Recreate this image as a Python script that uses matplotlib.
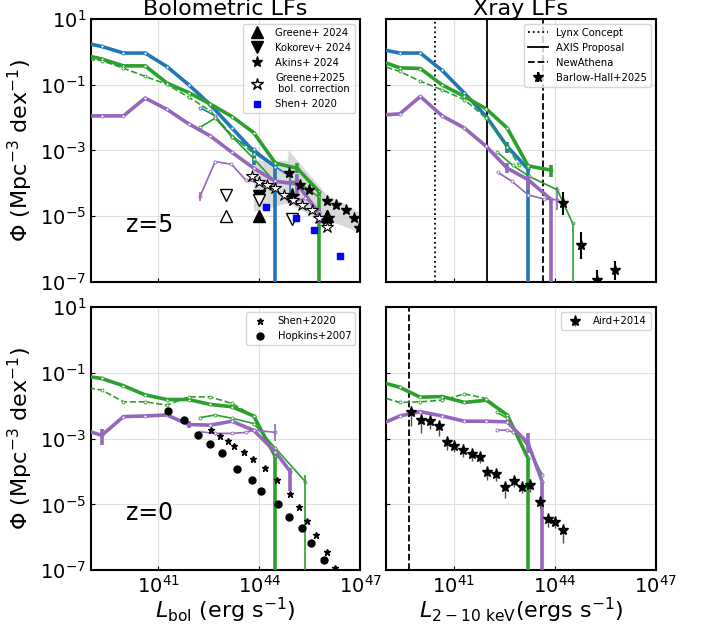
import numpy as np
import matplotlib.pyplot as plt

# ---- luminosity bins (log10 L) ----
bins_bol = [38.675, 39.32, 39.965, 40.61, 41.255, 41.9, 42.545, 43.19, 43.835, 44.48, 45.125, 45.77]
bins_x = [38.75, 39.4, 40.01, 40.66, 41.32, 41.97, 42.59, 43.21, 43.88]

# ---- z=5 bolometric LFs (log10 phi) ----
blue_bol_z5 = [0.3, 0.16, -0.04, -0.04, -0.45, -1.0, -1.61, -2.32, -3.03, -3.49]
green_bol_z5 = [-0.07, -0.22, -0.43, -0.43, -0.95, -1.24, -1.59, -1.97, -2.46, -3.39, -3.54, -4.25]
green_dash_bol_z5 = [-0.22, -0.27, -0.5, -0.75, -0.99, -1.38, -1.8, -2.55, -3.1]
purple_bol_z5 = [-1.95, -1.95, -1.95, -1.41, -1.75, -2.19, -2.56, -3.06, -3.54, -3.94, -4.02, -4.9]
thin_x_bol_z5 = [42.24, 42.69, 43.19, 43.835, 44.48, 44.92]
blue_thin_bol_z5 = [-1.7, -1.95, -2.6, -2.95, -3.5, -3.79]
green_thin_x_bol_z5 = [42.24, 42.69, 43.19, 43.835, 44.48, 45.125, 45.77]
green_thin_bol_z5 = [-2.3, -2.02, -2.58, -3.25, -3.97, -3.94, -4.42]
purple_thin_x_bol_z5 = [42.24, 42.69, 43.17, 43.6, 44.05, 44.5, 44.92, 45.37, 45.77]
purple_thin_bol_z5 = [-4.4, -3.34, -3.42, -3.9, -4.0, -4.2, -4.6, -4.45, -4.86]

# observational points at z=5
greene24_x, greene24_y = [44.0, 46.0], [-5.0, -5.0]
greene24_lim_x, greene24_lim_y = [43.0], [-5.0]
kokorev_x, kokorev_y = [44.0], [-4.4]
kokorev_lim_x, kokorev_lim_y = [43.0, 44.0, 44.97], [-4.35, -4.5, -5.1]
akins_x = [44.87, 45.22, 45.47, 46.01, 46.29, 46.59, 46.8, 46.96]
akins_y = [-3.69, -4.05, -4.2, -4.53, -4.65, -4.8, -5.06, -5.36]
akins_big_x, akins_big_y = [44.97, 46.01], [-4.38, -5.06]
akins_band_x = [43.83, 44.84, 44.86, 45.5, 46.0, 46.5, 47.0]
akins_band_lo = [-4.85, -4.6, -4.6, -4.95, -5.1, -5.3, -5.5]
akins_band_hi = [-3.3, -3.3, -2.98, -3.75, -4.35, -4.6, -4.9]
greene25_x = [43.78, 43.98, 44.23, 44.48, 44.73, 45.0, 45.27, 45.57, 45.77, 46.01]
greene25_y = [-3.79, -3.95, -4.05, -4.15, -4.35, -4.5, -4.65, -4.8, -5.06, -5.33]
shen_z5_x = [44.2, 45.09, 45.62, 46.41]
shen_z5_y = [-4.72, -5.06, -5.41, -6.2]

# ---- z=5 X-ray LFs ----
blue_x_z5 = [0.09, -0.04, -0.04, -0.57, -1.26, -1.97, -2.88, -3.57]
green_x_z5 = [-0.25, -0.49, -0.51, -1.01, -1.36, -1.74, -2.32, -3.47, -3.6]
green_dash_xx_z5 = [38.75, 39.4, 40.01, 40.66, 41.32, 41.97, 42.59, 42.95]
green_dash_x_z5 = [-0.38, -0.6, -0.9, -1.16, -1.46, -2.02, -2.9, -3.45]
purple_x_z5 = [-1.93, -1.89, -1.36, -1.95, -2.32, -2.88, -3.54, -3.89, -4.48]
green_thin_xx_z5 = [42.29, 42.75, 43.24, 44.08, 44.53]
green_thin_x_z5 = [-3.05, -3.45, -3.79, -4.2, -5.21]
purple_thin_xx_z5 = [42.32, 42.73, 43.21, 43.68, 44.08]
purple_thin_x_z5 = [-3.67, -3.94, -4.35, -4.48, -4.5]
barlow_x = [44.25, 44.77, 45.27, 45.8]
barlow_y = [-4.6, -5.89, -6.95, -6.65]
barlow_err = [0.35, 0.4, 0.3, 0.3]
lynx_L, axis_L, athena_L = 40.46, 41.98, 43.66

# ---- z=0 bolometric LFs ----
green_bol_z0 = [-1.08, -1.17, -1.39, -1.67, -1.81, -1.81, -1.96, -2.03, -2.31, -3.55]
green_dash_bol_z0 = [-1.42, -1.52, -1.88, -1.88, -1.98, -1.73, -1.73, -1.93, -2.31]
green_thin_x_bol_z0 = [42.24, 42.69, 43.19, 43.835, 44.48, 45.37]
green_thin_bol_z0 = [-2.36, -2.28, -2.38, -2.54, -3.29, -4.31]
purple_x_bol_z0 = [38.675, 39.32, 39.965, 40.61, 41.255, 41.9, 42.545, 43.19, 43.835, 44.48, 44.92]
purple_bol_z0 = [-2.69, -2.9, -2.33, -2.31, -2.28, -2.57, -2.59, -2.47, -2.75, -3.4, -4.0]
purple_thin_x_bol_z0 = [42.24, 42.69, 43.19, 43.6, 43.835, 44.48]
purple_thin_bol_z0 = [-2.79, -2.84, -2.84, -2.81, -2.74, -2.81]
hopkins_x = [41.3, 41.75, 42.19, 42.54, 42.89, 43.34, 43.78, 44.05, 44.57, 44.89, 45.27, 45.55, 45.92]
hopkins_y = [-2.15, -2.43, -2.89, -3.17, -3.45, -3.92, -4.26, -4.6, -4.99, -5.37, -5.72, -6.18, -6.69]
shen_z0_x = [41.76, 42.56, 42.82, 43.07, 43.24, 43.54, 43.81, 44.18, 44.54, 44.9, 45.17, 45.42, 45.7, 46.0, 46.26]
shen_z0_y = [-2.43, -2.74, -2.91, -3.07, -3.22, -3.42, -3.62, -3.9, -4.26, -4.68, -5.07, -5.5, -5.92, -6.44, -6.92]

# ---- z=0 X-ray LFs ----
green_x_z0 = [-1.25, -1.44, -1.74, -1.72, -1.9, -1.83, -2.28, -3.6]
green_dash_x_z0 = [-1.7, -1.9, -1.88, -1.83, -1.64, -1.78, -2.28]
green_thin_xx_z0 = [42.29, 42.59, 43.21, 43.63]
green_thin_x_z0 = [-2.2, -2.38, -3.25, -4.1]
purple_xx_z0 = [38.75, 39.4, 40.01, 40.66, 41.32, 41.97, 42.59, 43.21, 43.63]
purple_x_z0 = [-2.6, -2.31, -2.18, -2.31, -2.47, -2.47, -2.49, -3.14, -4.31]
purple_thin_xx_z0 = [42.29, 42.59, 42.75]
purple_thin_x_z0 = [-2.74, -2.74, -2.8]
aird_x = [39.74, 40.03, 40.29, 40.56, 40.79, 41.02, 41.27, 41.53, 41.77, 42.0,
          42.27, 42.52, 42.79, 43.04, 43.27, 43.56, 43.79, 44.01, 44.25]
aird_y = [-2.18, -2.43, -2.47, -2.62, -3.09, -3.22, -3.35, -3.47, -3.55, -4.0,
          -4.08, -4.46, -4.28, -4.46, -4.41, -4.92, -5.45, -5.53, -5.78]
aird_err_lo = [0.45, 0.4, 0.25, 0.3, 0.25, 0.2, 0.2, 0.2, 0.2, 0.25,
               0.2, 0.35, 0.2, 0.2, 0.2, 0.2, 0.25, 0.2, 0.4]
chandra_deep_L = 39.66

BLUE, GREEN, PURPLE = "#1f77b4", "#2ca02c", "#9467bd"
THICK, THIN = 2.6, 1.2


def lf(ax, logL, logphi, color, lw, ls="-", drop=False, err=None):
    """Draw a luminosity function with small hollow markers and optional error bars."""
    L = 10 ** np.asarray(logL)
    phi = 10 ** np.asarray(logphi)
    ax.plot(L, phi, color=color, lw=lw, ls=ls, marker="o", ms=2.2,
            mfc="white", mec=color, mew=0.6, zorder=3)
    lo = np.zeros(len(phi))
    hi = np.zeros(len(phi))
    if err:
        for i, (dlo, dhi) in err.items():
            lo[i] = phi[i] - phi[i] * 10 ** (-dlo)
            hi[i] = phi[i] * 10 ** dhi - phi[i]
    if drop:
        lo[-1] = phi[-1] - 1e-12
    if err or drop:
        ax.errorbar(L, phi, yerr=[lo, hi], fmt="none", ecolor=color,
                    elinewidth=lw, capsize=0, zorder=3)


fig = plt.figure(figsize=(7.05, 6.28), dpi=100)
ax_bz5 = fig.add_axes([0.129, 0.551, 0.382, 0.419])
ax_xz5 = fig.add_axes([0.548, 0.551, 0.382, 0.419])
ax_bz0 = fig.add_axes([0.129, 0.092, 0.382, 0.419])
ax_xz0 = fig.add_axes([0.548, 0.092, 0.382, 0.419])

# z=5 bolometric
ax = ax_bz5
ax.fill_between(10 ** np.array(akins_band_x), 10 ** np.array(akins_band_lo),
                10 ** np.array(akins_band_hi), color="lightgrey", alpha=0.85, lw=0, zorder=1)
lf(ax, bins_bol[:len(blue_bol_z5)], blue_bol_z5, BLUE, THICK, drop=True, err={8: (0.4, 0.1)})
lf(ax, thin_x_bol_z5, blue_thin_bol_z5, BLUE, THIN, err={5: (0.5, 0.1)})
lf(ax, bins_bol, green_bol_z5, GREEN, THICK, drop=True, err={10: (0.15, 0.15)})
lf(ax, bins_bol[:len(green_dash_bol_z5)], green_dash_bol_z5, GREEN, THIN, ls="--")
lf(ax, green_thin_x_bol_z5, green_thin_bol_z5, GREEN, THIN, drop=True)
lf(ax, bins_bol, purple_bol_z5, PURPLE, THICK, err={10: (0.3, 0.3), 11: (0.3, 0.15)})
lf(ax, purple_thin_x_bol_z5, purple_thin_bol_z5, PURPLE, THIN, err={0: (0.15, 0.15)})
ax.plot(10 ** np.array(greene24_x), 10 ** np.array(greene24_y), "^", color="k", ms=8, zorder=4)
ax.plot(10 ** np.array(greene24_lim_x), 10 ** np.array(greene24_lim_y), "^", mfc="white", mec="k", ms=8, zorder=4)
ax.plot(10 ** np.array(kokorev_x), 10 ** np.array(kokorev_y), "v", color="k", ms=8, zorder=4)
ax.plot(10 ** np.array(kokorev_lim_x), 10 ** np.array(kokorev_lim_y), "v", mfc="white", mec="k", ms=8, zorder=4)
ax.plot(10 ** np.array(akins_x), 10 ** np.array(akins_y), "*", color="k", ms=8, zorder=4)
ax.plot(10 ** np.array(akins_big_x), 10 ** np.array(akins_big_y), "*", color="k", ms=11, zorder=4)
ax.plot(10 ** np.array(greene25_x), 10 ** np.array(greene25_y), "*", mfc="white", mec="k", ms=9, mew=0.8, zorder=4)
ax.plot(10 ** np.array(shen_z5_x), 10 ** np.array(shen_z5_y), "s", color="blue", ms=4, zorder=4)
h = [plt.Line2D([], [], ls="", marker="^", color="k", ms=8),
     plt.Line2D([], [], ls="", marker="v", color="k", ms=8),
     plt.Line2D([], [], ls="", marker="*", color="k", ms=8),
     plt.Line2D([], [], ls="", marker="*", mfc="white", mec="k", ms=9),
     plt.Line2D([], [], ls="", marker="s", color="blue", ms=4)]
ax.legend(h, ["Greene+ 2024", "Kokorev+ 2024", "Akins+ 2024",
              "Greene+2025\n bol. correction", "Shen+ 2020"],
          loc="upper right", fontsize=7.2)
ax.text(0.13, 0.19, "z=5", transform=ax.transAxes, fontsize=17)
ax.set_title("Bolometric LFs", fontsize=16, pad=1.5)

# z=5 X-ray
ax = ax_xz5
lf(ax, bins_x[:len(blue_x_z5)], blue_x_z5, BLUE, THICK, drop=True, err={6: (0.2, 0.15)})
lf(ax, bins_x, green_x_z5, GREEN, THICK, err={8: (0.2, 0.15)})
lf(ax, green_dash_xx_z5, green_dash_x_z5, GREEN, THIN, ls="--")
lf(ax, green_thin_xx_z5, green_thin_x_z5, GREEN, THIN, drop=True, err={3: (0.1, 0.1)})
lf(ax, bins_x, purple_x_z5, PURPLE, THICK, drop=True, err={6: (0.15, 0.15), 7: (0.3, 0.1)})
lf(ax, purple_thin_xx_z5, purple_thin_x_z5, PURPLE, THIN, err={4: (0.3, 0.3)})
ax.axvline(10 ** lynx_L, color="k", ls=":", lw=1.3, label="Lynx Concept")
ax.axvline(10 ** axis_L, color="k", ls="-", lw=1.3, label="AXIS Proposal")
ax.axvline(10 ** athena_L, color="k", ls="--", lw=1.3, label="NewAthena")
bh_y = 10 ** np.array(barlow_y)
bh_err = [bh_y - bh_y * 10 ** -np.array(barlow_err), bh_y * 10 ** np.array(barlow_err) - bh_y]
ax.errorbar(10 ** np.array(barlow_x), bh_y, yerr=bh_err, fmt="*", color="k",
            ms=7, elinewidth=1.5, capsize=0, label="Barlow-Hall+2025", zorder=4)
ax.legend(loc="upper right", fontsize=7.2)
ax.set_title("Xray LFs", fontsize=16, pad=1.5)

# z=0 bolometric
ax = ax_bz0
lf(ax, bins_bol[:len(green_bol_z0)], green_bol_z0, GREEN, THICK, drop=True)
lf(ax, bins_bol[:len(green_dash_bol_z0)], green_dash_bol_z0, GREEN, THIN, ls="--")
lf(ax, green_thin_x_bol_z0, green_thin_bol_z0, GREEN, THIN, drop=True, err={5: (0.0, 0.22)})
lf(ax, purple_x_bol_z0, purple_bol_z0, PURPLE, THICK, err={1: (0.3, 0.2), 5: (0.1, 0.1), 10: (0.6, 0.1)})
lf(ax, purple_thin_x_bol_z0, purple_thin_bol_z0, PURPLE, THIN, err={5: (0.25, 0.25)})
ax.plot(10 ** np.array(shen_z0_x), 10 ** np.array(shen_z0_y), "*", color="k", ms=4.5,
        ls="", label="Shen+2020", zorder=4)
ax.plot(10 ** np.array(hopkins_x), 10 ** np.array(hopkins_y), "o", color="k", ms=5,
        ls="", label="Hopkins+2007", zorder=4)
ax.legend(loc="upper right", fontsize=7.2)
ax.text(0.13, 0.19, "z=0", transform=ax.transAxes, fontsize=17)
ax.set_xlabel(r"$L_{\rm bol}$ (erg s$^{-1}$)", fontsize=16, labelpad=-1)

# z=0 X-ray
ax = ax_xz0
lf(ax, bins_x[:len(green_x_z0)], green_x_z0, GREEN, THICK, drop=True)
lf(ax, bins_x[:len(green_dash_x_z0)], green_dash_x_z0, GREEN, THIN, ls="--")
lf(ax, green_thin_xx_z0, green_thin_x_z0, GREEN, THIN)
lf(ax, purple_xx_z0, purple_x_z0, PURPLE, THICK, drop=True, err={7: (0.3, 0.3)})
lf(ax, purple_thin_xx_z0, purple_thin_x_z0, PURPLE, THIN)
ax.axvline(10 ** chandra_deep_L, color="k", ls="--", lw=1.3)
ai_y = 10 ** np.array(aird_y)
ai_lo = ai_y - ai_y * 10 ** -np.array(aird_err_lo)
ax.errorbar(10 ** np.array(aird_x), ai_y, yerr=[ai_lo, ai_y * 10 ** 0.05 - ai_y],
            fmt="*", color="k", ecolor="0.3", elinewidth=1, ms=8, capsize=0,
            label="Aird+2014", zorder=4)
ax.legend(loc="upper right", fontsize=7.2)
ax.set_xlabel(r"$L_{2-10\ \rm keV}$(ergs s$^{-1}$)", fontsize=16, labelpad=-1)

for ax in (ax_bz5, ax_xz5, ax_bz0, ax_xz0):
    ax.set_xscale("log")
    ax.set_yscale("log")
    ax.set_xlim(1e39, 1e47)
    ax.set_ylim(1e-7, 1e1)
    ax.set_xticks([1e41, 1e44, 1e47])
    ax.set_yticks([1e1, 1e-1, 1e-3, 1e-5, 1e-7])
    ax.minorticks_off()
    ax.grid(True, color="0.88", lw=0.8)
    ax.set_axisbelow(True)
    ax.tick_params(labelsize=14, length=3, direction="in")
    for s in ax.spines.values():
        s.set_linewidth(1.5)

for ax in (ax_bz5, ax_xz5):
    ax.tick_params(labelbottom=False)
for ax in (ax_xz5, ax_xz0):
    ax.tick_params(labelleft=False)
for ax in (ax_bz5, ax_bz0):
    ax.set_ylabel(r"$\Phi$ (Mpc$^{-3}$ dex$^{-1}$)", fontsize=16)

fig.savefig("out.png", dpi=100)
